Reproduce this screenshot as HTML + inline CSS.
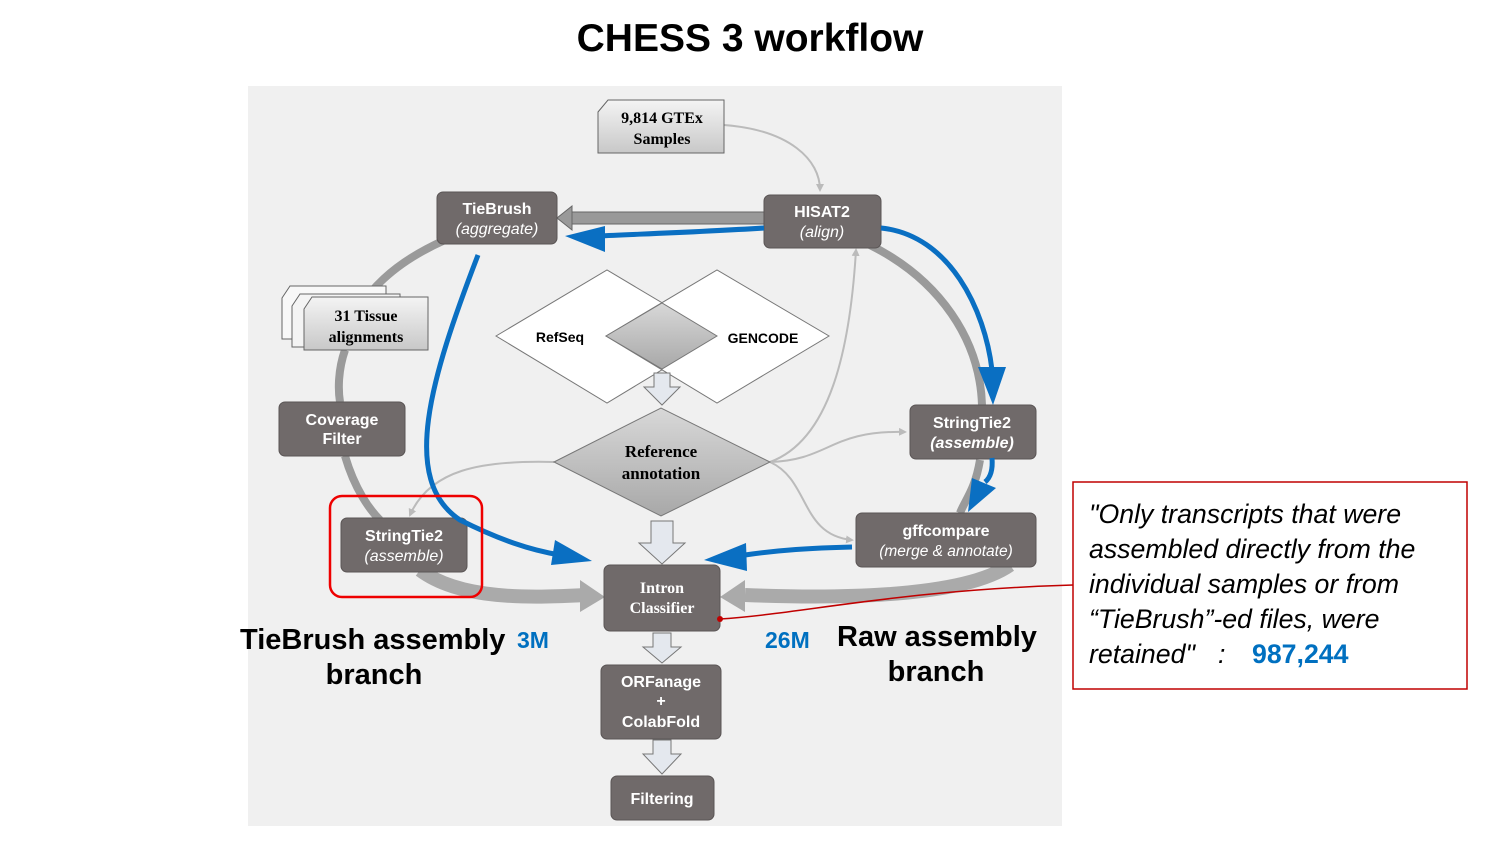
<!DOCTYPE html>
<html><head><meta charset="utf-8"><style>
body{margin:0;width:1500px;height:844px;background:#fff;overflow:hidden;font-family:"Liberation Sans",sans-serif}
</style></head><body>
<svg width="1500" height="844" viewBox="0 0 1500 844" xmlns="http://www.w3.org/2000/svg" font-family="Liberation Sans, sans-serif">
<defs>
<linearGradient id="gb" x1="0" y1="0" x2="0" y2="1"><stop offset="0" stop-color="#f4f4f4"/><stop offset="1" stop-color="#c8c8c8"/></linearGradient>
<linearGradient id="dg" x1="0" y1="0" x2="0" y2="1"><stop offset="0" stop-color="#d8d8d8"/><stop offset="1" stop-color="#a8a8a8"/></linearGradient>
<marker id="ah" markerWidth="8" markerHeight="8" refX="6" refY="4" orient="auto" markerUnits="userSpaceOnUse"><path d="M0,0 L8,4 L0,8 z" fill="#bbb"/></marker>
</defs>
<text x="750" y="51" text-anchor="middle" font-size="39" font-weight="bold" fill="#000">CHESS 3 workflow</text>
<rect x="248" y="86" width="814" height="740" fill="#f0f0f0"/>
<!-- ring -->
<g fill="none" stroke="#9a9a9a" stroke-width="8">
<path d="M445,240 C400,260 360,290 345,340"/>
<path d="M345,350 C338,370 338,390 340,402"/>
<path d="M345,456 C355,490 370,510 380,520"/>
<path d="M870,245 C940,280 980,340 982,405"/>
<path d="M980,460 C975,490 965,500 960,513"/>
</g>
<path d="M420,570 C460,600 530,598 585,595" fill="none" stroke="#aaa" stroke-width="14"/>
<path d="M580,580 L605,597 L580,612 z" fill="#aaa"/>
<path d="M1010,565 C960,600 820,598 745,595" fill="none" stroke="#aaa" stroke-width="14"/>
<path d="M745,580 L720,597 L745,612 z" fill="#aaa"/>
<rect x="570" y="212" width="195" height="12" fill="#999" stroke="#666"/>
<path d="M572,206 L557,218 L572,230 z" fill="#999" stroke="#666"/>
<g fill="none" stroke="#bbb" stroke-width="2">
<path d="M724,125 C790,130 820,160 820,190" marker-end="url(#ah)"/>
<path d="M770,462 C830,440 850,350 856,250" marker-end="url(#ah)"/>
<path d="M770,462 C830,460 830,430 905,432" marker-end="url(#ah)"/>
<path d="M770,462 C810,480 800,535 852,540" marker-end="url(#ah)"/>
<path d="M554,462 C480,460 430,470 410,515" marker-end="url(#ah)"/>
</g>
<polygon points="496,336 607,270 718,336 607,403" fill="#fff" stroke="#777"/>
<polygon points="606,336 717,270 829,336 717,403" fill="#fff" stroke="#777"/>
<polygon points="606,336 662,303 717,336 662,369" fill="url(#dg)" stroke="#777"/>
<text x="560" y="342" text-anchor="middle" font-size="14" font-weight="bold">RefSeq</text>
<text x="763" y="343" text-anchor="middle" font-size="14" font-weight="bold">GENCODE</text>
<polygon points="554,462 661,408 770,462 661,516" fill="url(#dg)" stroke="#777"/>
<text x="661" y="457" text-anchor="middle" font-family="Liberation Serif, serif" font-size="17" font-weight="bold">Reference</text>
<text x="661" y="479" text-anchor="middle" font-family="Liberation Serif, serif" font-size="17" font-weight="bold">annotation</text>
<g fill="#e4e8ee" stroke="#777">
<path d="M654,373 h16 v14 h10 l-18,18 l-18,-18 h10 z"/>
<path d="M651,521 h22 v22 h12 l-23,21 l-23,-21 h12 z"/>
<path d="M653,633 h18 v14 h10 l-19,16 l-19,-16 h10 z"/>
<path d="M653,740 h18 v14 h10 l-19,20 l-19,-20 h10 z"/>
</g>
<path d="M598,112 l10,-12 h116 v53 h-126 z" fill="url(#gb)" stroke="#666"/>
<text x="662" y="123" text-anchor="middle" font-family="Liberation Serif, serif" font-size="16" font-weight="bold">9,814 GTEx</text>
<text x="662" y="144" text-anchor="middle" font-family="Liberation Serif, serif" font-size="16" font-weight="bold">Samples</text>
<path d="M282,298 l8,-12 h96 v53 h-104 z" fill="#f8f8f8" stroke="#666"/>
<path d="M292,306 l8,-12 h100 v53 h-108 z" fill="#f4f4f4" stroke="#666"/>
<path d="M304,309 l8,-12 h116 v53 h-124 z" fill="url(#gb)" stroke="#666"/>
<text x="366" y="321" text-anchor="middle" font-family="Liberation Serif, serif" font-size="16" font-weight="bold">31 Tissue</text>
<text x="366" y="342" text-anchor="middle" font-family="Liberation Serif, serif" font-size="16" font-weight="bold">alignments</text>
<g fill="#706a6a" stroke="#5a5555">
<rect x="437" y="192" width="120" height="52" rx="6"/>
<rect x="764" y="195" width="117" height="53" rx="6"/>
<rect x="279" y="402" width="126" height="54" rx="6"/>
<rect x="341" y="518" width="126" height="54" rx="6"/>
<rect x="910" y="405" width="126" height="54" rx="6"/>
<rect x="856" y="513" width="180" height="54" rx="6"/>
<rect x="604" y="565" width="116" height="66" rx="6"/>
<rect x="601" y="665" width="120" height="74" rx="6"/>
<rect x="611" y="776" width="103" height="44" rx="6"/>
</g>
<g fill="#fff" font-size="16" text-anchor="middle" font-weight="bold">
<text x="497" y="214">TieBrush</text>
<text x="497" y="234" font-weight="normal" font-style="italic">(aggregate)</text>
<text x="822" y="217">HISAT2</text>
<text x="822" y="237" font-weight="normal" font-style="italic">(align)</text>
<text x="342" y="425">Coverage</text>
<text x="342" y="444">Filter</text>
<text x="404" y="541">StringTie2</text>
<text x="404" y="561" font-weight="normal" font-style="italic">(assemble)</text>
<text x="972" y="428">StringTie2</text>
<text x="972" y="448" font-style="italic">(assemble)</text>
<text x="946" y="536">gffcompare</text>
<text x="946" y="556" font-weight="normal" font-style="italic" font-size="15.5">(merge &amp; annotate)</text>
<text x="662" y="593" font-family="Liberation Serif, serif">Intron</text>
<text x="662" y="613" font-family="Liberation Serif, serif">Classifier</text>
<text x="661" y="687">ORFanage</text>
<text x="661" y="706">+</text>
<text x="661" y="727">ColabFold</text>
<text x="662" y="804">Filtering</text>
</g>
<g fill="none" stroke="#0a6fc2" stroke-width="5">
<path d="M764,228 C700,232 640,234 598,236"/>
<path d="M881,228 C950,235 985,310 992,370"/>
<path d="M992,458 C993,470 990,478 985,482"/>
<path d="M478,255 C430,380 400,480 460,520 C500,540 530,550 560,555"/>
<path d="M852,547 C810,548 780,550 745,555"/>
</g>
<g fill="#0a6fc2">
<path d="M605,226 L565,236 L605,252 z"/>
<path d="M978,367 L993,405 L1006,367 z"/>
<path d="M972,478 L968,512 L996,488 z"/>
<path d="M555,540 L592,561 L551,565 z"/>
<path d="M746,543 L704,560 L747,571 z"/>
</g>
<rect x="330" y="496" width="152" height="101" rx="12" fill="none" stroke="#e00" stroke-width="2.5"/>
<path d="M720,619 C800,614 900,590 1073,585" fill="none" stroke="#c00000" stroke-width="1.5"/>
<circle cx="720" cy="619" r="3" fill="#c00000"/>
<rect x="1073" y="482" width="394" height="207" fill="#fff" stroke="#c00000" stroke-width="1.5"/>
<g font-size="26.7" font-style="italic" fill="#000">
<text x="1089" y="523">"Only transcripts that were</text>
<text x="1089" y="558">assembled directly from the</text>
<text x="1089" y="593">individual samples or from</text>
<text x="1089" y="628">“TieBrush”-ed files, were</text>
<text x="1089" y="663">retained"</text>
<text x="1218" y="663">:</text>
<text x="1252" y="663" font-style="normal" font-weight="bold" fill="#0070c0">987,244</text>
</g>
<g font-size="29" font-weight="bold" fill="#000">
<text x="240" y="649">TieBrush assembly</text>
<text x="374" y="684" text-anchor="middle">branch</text>
<text x="837" y="646">Raw assembly</text>
<text x="936" y="681" text-anchor="middle">branch</text>
</g>
<text x="517" y="648" font-size="23" font-weight="bold" fill="#0070c0">3M</text>
<text x="765" y="648" font-size="23" font-weight="bold" fill="#0070c0">26M</text>
</svg>
</body></html>
